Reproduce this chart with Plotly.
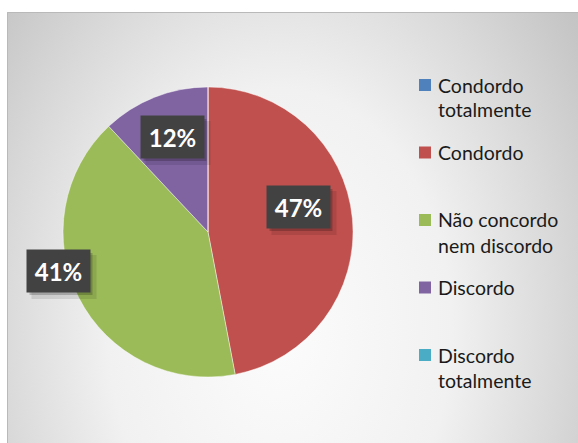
import base64
import textwrap
import plotly.graph_objects as go

# Survey answers and their share (%)
labels = ["Condordo totalmente", "Condordo", "Não concordo nem discordo",
          "Discordo", "Discordo totalmente"]
percent = [0, 47, 41, 12, 0]
colors = ["#4F81BD", "#C0504D", "#9BBB59", "#8064A2", "#4BACC6"]

W, H = 578, 443


def fx(x):
    return x / W


def fy(y):
    return 1 - y / H


# pie placement (pixels)
cx, cy, R = 208, 232, 145

fig = go.Figure(go.Pie(
    labels=labels, values=percent, sort=False, direction="clockwise", rotation=0,
    marker=dict(colors=colors, line=dict(color="rgba(255,255,255,0.55)", width=0.8)),
    textinfo="none", hoverinfo="label+percent", showlegend=False,
    domain=dict(x=[fx(cx - R), fx(cx + R)], y=[fy(cy + R), fy(cy - R)]),
))

# chart-area background: soft radial gradient
area = dict(x=7, y=12, w=571, h=431)
svg = f'''<svg xmlns="http://www.w3.org/2000/svg" width="{area['w']}" height="{area['h']}" viewBox="0 0 {area['w']} {area['h']}" preserveAspectRatio="none">
<defs><radialGradient id="g" gradientUnits="userSpaceOnUse" cx="273" cy="318" r="430"
 gradientTransform="translate(273 318) scale(1 1.4) translate(-273 -318)">
<stop offset="0" stop-color="#fcfcfc"/>
<stop offset="0.4" stop-color="#f1f1f1"/>
<stop offset="0.65" stop-color="#d9d9d9"/>
<stop offset="0.85" stop-color="#c5c5c5"/>
<stop offset="1" stop-color="#bcbcbc"/>
</radialGradient></defs>
<rect width="{area['w']}" height="{area['h']}" fill="url(#g)"/></svg>'''
src = "data:image/svg+xml;base64," + base64.b64encode(svg.encode()).decode()
fig.add_layout_image(dict(source=src, xref="paper", yref="paper",
                          x=fx(area["x"]), y=fy(area["y"]),
                          sizex=area["w"] / W, sizey=area["h"] / H,
                          xanchor="left", yanchor="top", sizing="stretch", layer="below"))
fig.add_shape(type="rect", xref="paper", yref="paper",
              x0=fx(7.5), x1=fx(580), y0=fy(12.5), y1=fy(446),
              line=dict(color="#b9b9b9", width=1), layer="below")

# percentage labels in dark boxes with a soft shadow
label_pos = {1: (298, 207), 2: (58, 271), 3: (172, 137)}
box_w, box_h = 63, 42
for i, v in enumerate(percent):
    if v == 0:
        continue
    x, y = label_pos[i]
    for off, alpha, grow in [(5, 0.10, 2), (3, 0.20, 0)]:
        fig.add_shape(type="rect", xref="paper", yref="paper",
                      x0=fx(x - box_w / 2 + off), x1=fx(x + box_w / 2 + off + grow),
                      y0=fy(y + box_h / 2 + off + grow), y1=fy(y - box_h / 2 + off),
                      fillcolor=f"rgba(0,0,0,{alpha})", line=dict(width=0))
    fig.add_annotation(x=fx(x), y=fy(y), xref="paper", yref="paper",
                       xanchor="center", yanchor="middle",
                       text=f"<b>{v}%</b>", showarrow=False, width=box_w, height=box_h,
                       bgcolor="#424242", borderpad=0,
                       font=dict(family="Lato", size=24, color="#ffffff"))

# legend drawn as swatches + wrapped text
leg_x, leg_y0, leg_step, line_h = 419, 85, 67.5, 25
for i, lab in enumerate(labels):
    yc = leg_y0 + i * leg_step
    fig.add_shape(type="rect", xref="paper", yref="paper",
                  x0=fx(leg_x), x1=fx(leg_x + 12), y0=fy(yc + 6), y1=fy(yc - 6),
                  fillcolor=colors[i], line=dict(width=0))
    for k, line in enumerate(textwrap.wrap(lab, 12)):
        fig.add_annotation(x=fx(leg_x + 17), y=fy(yc + k * line_h), xref="paper", yref="paper",
                           text=line, showarrow=False, xanchor="left", yanchor="middle",
                           font=dict(family="Lato", size=19.5, color="#1a1a1a"))

fig.update_layout(width=W, height=H, margin=dict(l=0, r=0, t=0, b=0),
                  paper_bgcolor="#ffffff", plot_bgcolor="rgba(0,0,0,0)")
fig.write_html("out.html")
